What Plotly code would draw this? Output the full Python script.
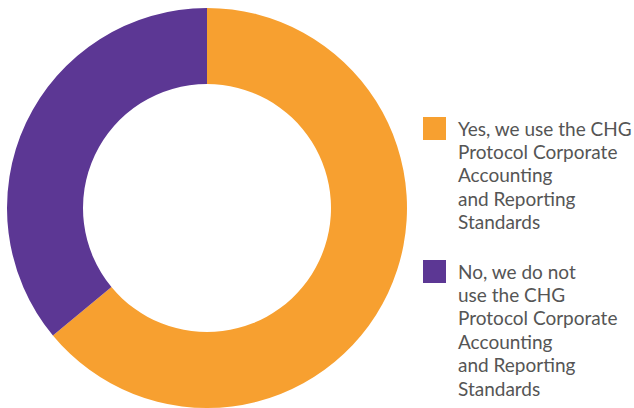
import plotly.graph_objects as go

W, H = 634, 408

labels = [
    "Yes, we use the CHG Protocol Corporate Accounting and Reporting Standards",
    "No, we do not use the CHG Protocol Corporate Accounting and Reporting Standards",
]
legend_lines = [
    ["Yes, we use the CHG", "Protocol Corporate", "Accounting", "and Reporting", "Standards"],
    ["No, we do not", "use the CHG", "Protocol Corporate", "Accounting", "and Reporting", "Standards"],
]
values = [64, 36]
colors = ["#F7A030", "#5C3794"]

fig = go.Figure(
    go.Pie(
        labels=labels,
        values=values,
        hole=0.62,
        sort=False,
        direction="clockwise",
        rotation=0,
        marker=dict(colors=colors, line=dict(width=0)),
        textinfo="none",
        hoverinfo="label+percent",
        showlegend=False,
        domain=dict(x=[7 / W, 407 / W], y=[0, 400 / H]),
    )
)

first_line_centers = [128, 271]
line_step = 23.4
shapes = []
annotations = []
for i, (lines, col) in enumerate(zip(legend_lines, colors)):
    c0 = first_line_centers[i]
    shapes.append(
        dict(
            type="rect", xref="paper", yref="paper",
            x0=423 / W, x1=446 / W,
            y0=1 - (c0 - 11) / H, y1=1 - (c0 + 12) / H,
            fillcolor=col, line=dict(width=0),
        )
    )
    for j, line in enumerate(lines):
        annotations.append(
            dict(
                xref="paper", yref="paper",
                x=456 / W, y=1 - (c0 + j * line_step) / H,
                xanchor="left", yanchor="middle", align="left",
                text=line, showarrow=False,
                font=dict(family="Lato", size=19, color="#555555"),
            )
        )

fig.update_layout(
    width=W, height=H,
    margin=dict(l=0, r=0, t=0, b=0),
    paper_bgcolor="white", plot_bgcolor="white",
    shapes=shapes, annotations=annotations,
)

fig.write_html("out.html")
